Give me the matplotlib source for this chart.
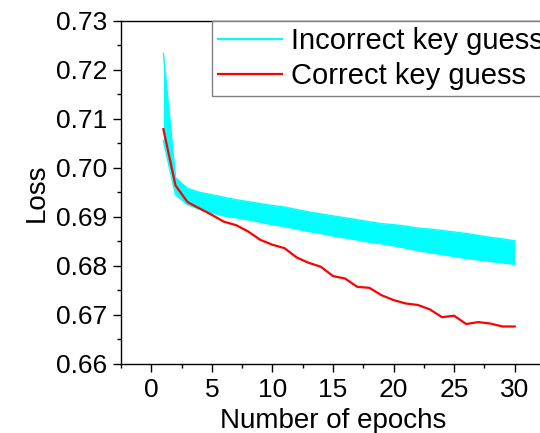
import matplotlib
matplotlib.use("Agg")
from matplotlib import pyplot as plt
from matplotlib.ticker import MultipleLocator, FormatStrFormatter

plt.rcParams['font.family'] = ['Liberation Sans', 'DejaVu Sans']

# Epochs 1..30
epochs = list(range(1, 31))

# Correct key guess (red line)
correct = [0.7079, 0.6964, 0.6930, 0.6917, 0.6904, 0.6890, 0.6883, 0.6870,
           0.6853, 0.6843, 0.6836, 0.6817, 0.6806, 0.6798, 0.6779, 0.6774,
           0.6757, 0.6755, 0.6740, 0.6730, 0.6723, 0.6720, 0.6711, 0.6695,
           0.6698, 0.6681, 0.6685, 0.6682, 0.6676, 0.6676]

# Incorrect key guesses: upper and lower edge of the cyan band
incorrect_top = [0.7234, 0.6980, 0.6958, 0.6950, 0.6945, 0.6940, 0.6935, 0.6931,
                 0.6927, 0.6923, 0.6920, 0.6915, 0.6910, 0.6906, 0.6902, 0.6898,
                 0.6894, 0.6890, 0.6886, 0.6884, 0.6881, 0.6877, 0.6875, 0.6872,
                 0.6869, 0.6866, 0.6862, 0.6858, 0.6855, 0.6851]
incorrect_bottom = [0.7055, 0.6945, 0.6925, 0.6915, 0.6908, 0.6902, 0.6898, 0.6894,
                    0.6889, 0.6884, 0.6880, 0.6875, 0.6870, 0.6866, 0.6861, 0.6857,
                    0.6853, 0.6848, 0.6845, 0.6841, 0.6836, 0.6831, 0.6827, 0.6823,
                    0.6819, 0.6815, 0.6812, 0.6809, 0.6806, 0.6803]

fig = plt.figure(figsize=(5.4, 4.33), dpi=100)
# axes run off the right edge of the picture, like the reference
ax = fig.add_axes([121 / 540, 1 - 363.7 / 433, 430 / 540, (363.7 - 21) / 433])

ax.fill_between(epochs, incorrect_bottom, incorrect_top, color='cyan', lw=0)
ax.plot(epochs, incorrect_top, color='cyan', lw=1, label='Incorrect key guess')
ax.plot(epochs, incorrect_bottom, color='cyan', lw=1)
ax.plot(epochs, correct, color='red', lw=1.6, label='Correct key guess')

ax.set_xlim(-2.5, 33)
ax.set_ylim(0.66, 0.73)
ax.xaxis.set_major_locator(MultipleLocator(5))
ax.xaxis.set_minor_locator(MultipleLocator(2.5))
ax.yaxis.set_major_locator(MultipleLocator(0.01))
ax.yaxis.set_minor_locator(MultipleLocator(0.005))
ax.yaxis.set_major_formatter(FormatStrFormatter('%.2f'))

ax.tick_params(which='major', direction='out', length=6, width=1, labelsize=19, pad=4)
ax.tick_params(which='minor', direction='out', length=3, width=1)
ax.spines['right'].set_visible(False)
for s in ['left', 'bottom', 'top']:
    ax.spines[s].set_linewidth(1)

ax.set_xlabel('Number of epochs', fontsize=20)
ax.xaxis.set_label_coords(0.493, -0.13)
ax.set_ylabel('Loss', fontsize=20, labelpad=4)

leg = ax.legend(loc='upper left', bbox_to_anchor=(0.2116, 1.0), borderaxespad=0,
                fontsize=21, fancybox=False, framealpha=1, edgecolor='gray',
                handlelength=2.2, handletextpad=0.32, borderpad=0.2, labelspacing=0.25)
leg.get_frame().set_linewidth(1)
for line in leg.get_lines():
    line.set_linewidth(1.6)

fig.savefig('out.png', dpi=100)
